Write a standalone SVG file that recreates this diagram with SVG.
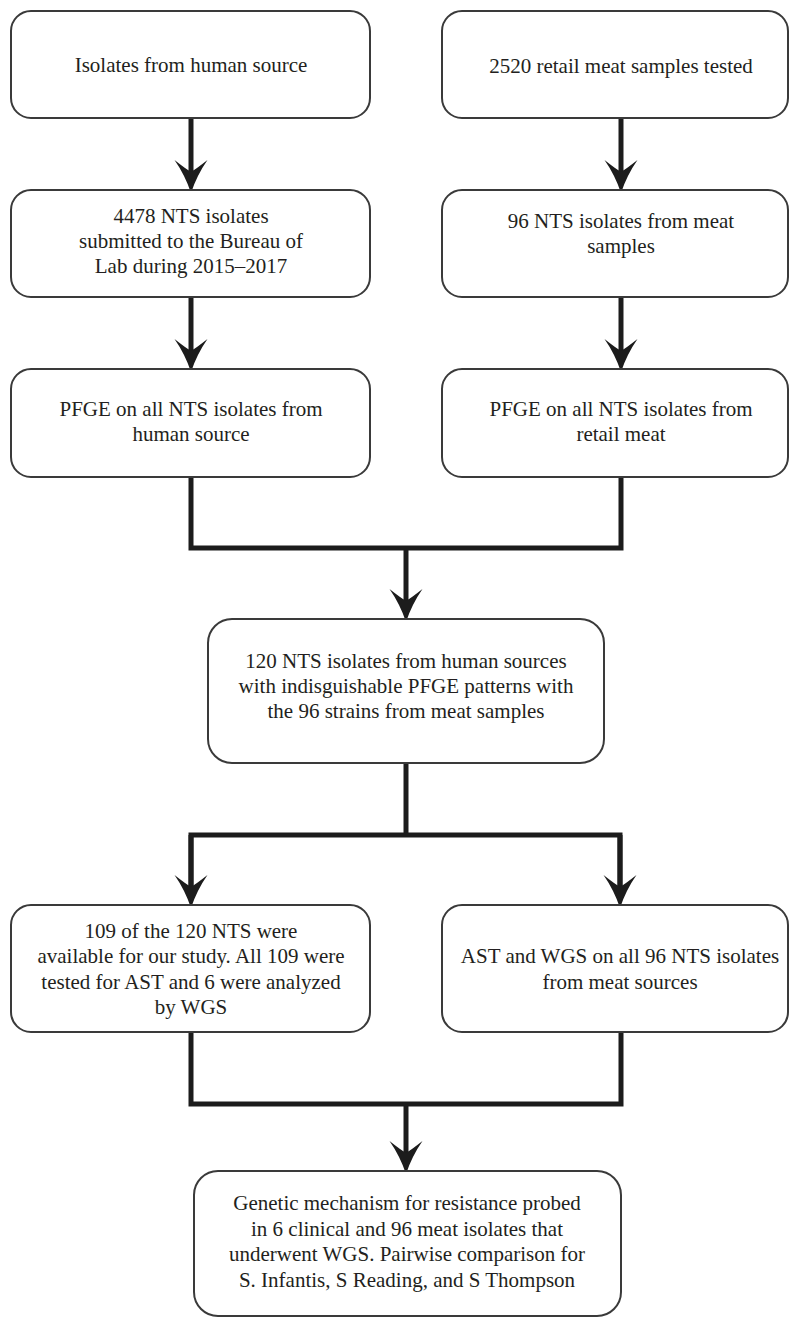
<svg xmlns="http://www.w3.org/2000/svg" width="790" height="1320" viewBox="0 0 790 1320">
<style>
.box{fill:#ffffff;stroke:#3a3a3a;stroke-width:2}
.t{font-family:"Liberation Serif","Times New Roman",serif;font-size:21px;fill:#231f20;text-anchor:middle}
.ln{fill:none;stroke:#1c1c1c;stroke-width:5;stroke-linejoin:miter;stroke-linecap:butt}
</style>
<defs>
<marker id="ah" markerUnits="userSpaceOnUse" markerWidth="40" markerHeight="40" viewBox="-14 -16 34 32" refX="0" refY="0" orient="auto">
<path d="M17,0 Q2,-5 -11,-14 Q-3,-4 -1,0 Q-3,4 -11,14 Q2,5 17,0 Z" fill="#1c1c1c"/>
</marker>
</defs>
<rect width="790" height="1320" fill="#ffffff"/>
<g id="connectors">
<path class="ln" d="M191,118 V173" marker-end="url(#ah)"/>
<path class="ln" d="M621,118 V173" marker-end="url(#ah)"/>
<path class="ln" d="M191,297 V352" marker-end="url(#ah)"/>
<path class="ln" d="M621,297 V352" marker-end="url(#ah)"/>
<path class="ln" d="M191,477 V548 H621 V477"/>
<path class="ln" d="M406,548 V602" marker-end="url(#ah)"/>
<path class="ln" d="M406,763 V835"/>
<path class="ln" d="M191,888 V835 H620 V888"/>
<path class="ln" d="M191,835 V888" marker-end="url(#ah)"/>
<path class="ln" d="M620,835 V888" marker-end="url(#ah)"/>
<path class="ln" d="M191,1032 V1104 H621 V1032"/>
<path class="ln" d="M406,1104 V1154" marker-end="url(#ah)"/>
</g>
<g id="n1">
<rect class="box" x="11" y="11" width="359" height="107" rx="20"/>
<text class="t" x="191" y="72">Isolates from human source</text>
</g>
<g id="n2">
<rect class="box" x="442" y="11" width="346" height="107" rx="20"/>
<text class="t" x="621" y="73">2520 retail meat samples tested</text>
</g>
<g id="n3">
<rect class="box" x="11" y="190" width="359" height="107" rx="20"/>
<text class="t" x="191" y="223">4478 NTS isolates</text>
<text class="t" x="191" y="248">submitted to the Bureau of</text>
<text class="t" x="191" y="273">Lab during 2015–2017</text>
</g>
<g id="n4">
<rect class="box" x="442" y="190" width="346" height="107" rx="20"/>
<text class="t" x="621" y="228">96 NTS isolates from meat</text>
<text class="t" x="621" y="253">samples</text>
</g>
<g id="n5">
<rect class="box" x="11" y="369" width="359" height="108" rx="20"/>
<text class="t" x="191" y="416">PFGE on all NTS isolates from</text>
<text class="t" x="191" y="441">human source</text>
</g>
<g id="n6">
<rect class="box" x="442" y="369" width="346" height="108" rx="20"/>
<text class="t" x="621" y="416">PFGE on all NTS isolates from</text>
<text class="t" x="621" y="441">retail meat</text>
</g>
<g id="n7">
<rect class="box" x="208" y="619" width="396" height="144" rx="24"/>
<text class="t" x="406" y="668">120 NTS isolates from human sources</text>
<text class="t" x="406" y="693">with indisguishable PFGE patterns with</text>
<text class="t" x="406" y="718">the 96 strains from meat samples</text>
</g>
<g id="n8">
<rect class="box" x="11" y="905" width="359" height="127" rx="20"/>
<text class="t" x="191" y="938">109 of the 120 NTS were</text>
<text class="t" x="191" y="963">available for our study. All 109 were</text>
<text class="t" x="191" y="989">tested for AST and 6 were analyzed</text>
<text class="t" x="191" y="1014">by WGS</text>
</g>
<g id="n9">
<rect class="box" x="442" y="905" width="346" height="127" rx="20"/>
<text class="t" x="620" y="963">AST and WGS on all 96 NTS isolates</text>
<text class="t" x="620" y="989">from meat sources</text>
</g>
<g id="n10">
<rect class="box" x="194" y="1171" width="427" height="145" rx="24"/>
<text class="t" x="407" y="1210">Genetic mechanism for resistance probed</text>
<text class="t" x="407" y="1236">in 6 clinical and 96 meat isolates that</text>
<text class="t" x="407" y="1261">underwent WGS. Pairwise comparison for</text>
<text class="t" x="407" y="1287">S. Infantis, S Reading, and S Thompson</text>
</g>
</svg>
